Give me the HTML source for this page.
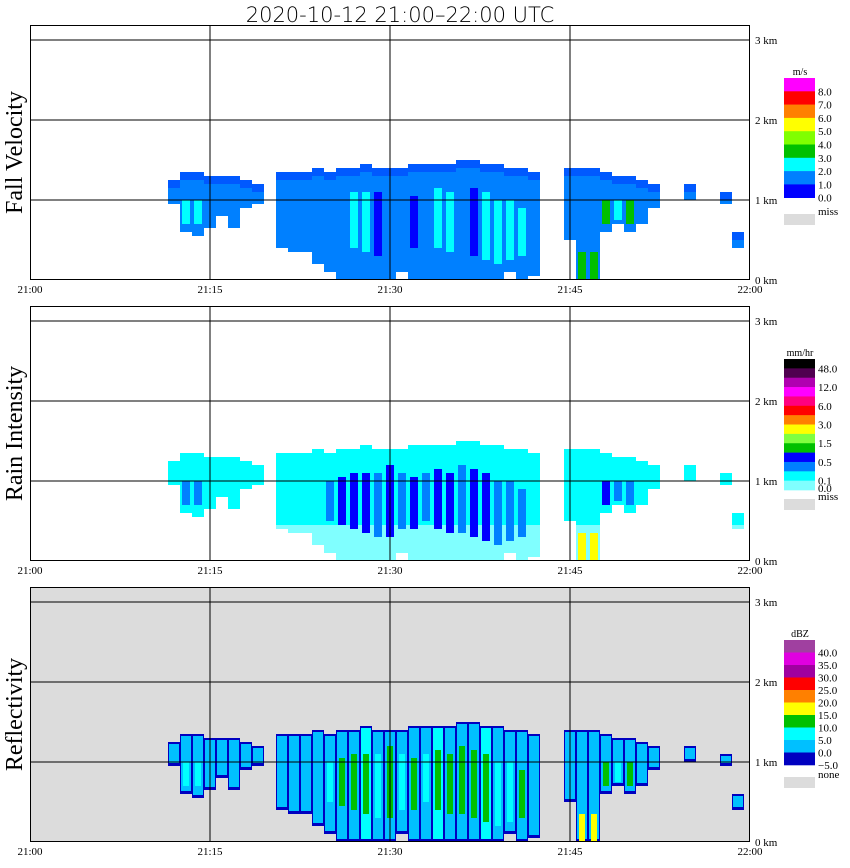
<!DOCTYPE html>
<html><head><meta charset="utf-8">
<style>
html,body{margin:0;padding:0;background:#fff;}
svg{display:block;}
text{font-family:"Liberation Serif","DejaVu Serif",serif;fill:#000;}
</style></head>
<body>
<svg id="chart" width="850" height="868" viewBox="0 0 850 868" xmlns="http://www.w3.org/2000/svg">
<text x="400" y="22" text-anchor="middle" style="font-family:'DejaVu Sans','Liberation Sans',sans-serif;font-size:21px;font-weight:300">2020-10-12   21:00–22:00 UTC</text>
<g id="panels"></g>
</svg>
<script>
// ---- data (per-minute columns after 21:00) ----
const minutes   = [12,13,14,15,16,17,18,19,21,22,23,24,25,26,27,28,29,30,31,32,33,34,35,36,37,38,39,40,41,42,45,46,47,48,49,50,51,52,55,58,59];
const echoTop   = [1.25,1.35,1.35,1.3,1.3,1.3,1.25,1.2,1.35,1.35,1.35,1.4,1.35,1.4,1.4,1.45,1.4,1.4,1.4,1.45,1.45,1.45,1.45,1.5,1.5,1.45,1.45,1.4,1.4,1.35,1.4,1.4,1.4,1.35,1.3,1.3,1.25,1.2,1.2,1.1,0.6];
const echoBase  = [0.95,0.6,0.55,0.65,0.8,0.65,0.9,0.95,0.4,0.35,0.35,0.2,0.1,0.0,0.0,0.0,0.0,0.0,0.1,0.0,0.0,0.0,0.0,0.0,0.0,0.0,0.0,0.1,0.0,0.05,0.5,0.0,0.0,0.6,0.7,0.6,0.7,0.9,1.0,0.95,0.4];
const coreTop   = [null,1.0,1.0,null,null,null,null,null,null,null,null,null,1.0,1.05,1.1,1.1,1.1,1.2,1.1,1.05,1.1,1.15,1.1,1.2,1.15,1.1,1.0,1.0,0.9,null,null,0.35,0.35,1.0,1.0,1.0,null,null,null,null,null];
const coreBase  = [null,0.7,0.7,null,null,null,null,null,null,null,null,null,0.5,0.45,0.4,0.35,0.3,0.3,0.4,0.4,0.5,0.4,0.35,0.35,0.3,0.25,0.2,0.25,0.3,null,null,0.0,0.0,0.7,0.75,0.7,null,null,null,null,null];
const fallMain  = [1.5,1.5,1.5,1.5,1.5,1.5,1.5,1.5,1.5,1.5,1.5,1.5,1.5,1.5,1.5,1.5,1.5,1.5,1.5,1.5,1.5,1.5,1.5,1.5,1.5,1.5,1.5,1.5,1.5,1.5,1.5,1.5,1.5,1.5,1.5,1.5,1.5,1.5,1.5,1.5,1.5];
const fallCore  = [null,2.5,2.5,null,null,null,null,null,null,null,null,null,1.5,1.5,2.5,2.5,0.5,1.5,1.5,0.5,1.5,2.5,2.5,1.5,0.5,2.5,2.5,2.5,2.5,null,null,3.5,3.5,3.5,2.5,3.5,null,null,null,null,null];
const rainMain  = [0.15,0.15,0.15,0.15,0.15,0.15,0.15,0.15,0.15,0.15,0.15,0.15,0.15,0.15,0.15,0.15,0.15,0.15,0.15,0.15,0.15,0.15,0.15,0.15,0.15,0.15,0.15,0.15,0.15,0.15,0.15,0.15,0.15,0.15,0.15,0.15,0.15,0.15,0.15,0.15,0.15];
const rainLow   = 0.05;
const rainLowTop = 0.45;
const rainCore  = [null,0.3,0.3,null,null,null,null,null,null,null,null,null,0.3,0.7,0.7,0.7,0.3,0.7,0.3,0.7,0.3,0.7,0.7,0.3,0.7,0.7,0.3,0.3,0.3,null,null,2.5,2.5,0.7,0.3,0.3,null,null,null,null,null];
const dbzMain   = [2,2,2,2,2,2,2,2,2,2,2,2,2,2,2,7,2,2,2,2,2,7,2,2,2,7,2,2,2,2,2,2,2,2,2,2,2,2,2,2,2];
const dbzCore   = [null,7,7,null,null,null,null,null,null,null,null,null,7,12,12,12,7,12,7,12,7,12,12,12,12,12,7,7,12,null,null,17,17,12,7,12,null,null,null,null,null];
// ---- colour scales ----
const fallBounds = [0,1,2,3,4,5,6,7,8];
const fallColors = ["#0000ff","#0080ff","#00ffff","#00c000","#80ff00","#ffff00","#ff8000","#ff0000","#ff00ff"];
const fallLabels = ["8.0","7.0","6.0","5.0","4.0","3.0","2.0","1.0","0.0"];
const rainBounds = [0,0.1,0.25,0.5,1,1.5,2,3,4.5,6,9,12,24,48];
const rainColors = ["#80ffff","#00ffff","#0080ff","#0000ff","#00c000","#80ff40","#ffff00","#ff8000","#ff0000","#ff0080","#ff00ff","#b000b0","#500050","#000000"];
const rainLabels = ["48.0","12.0","6.0","3.0","1.5","0.5","0.1","0.0"];
const dbzBounds = [-5,0,5,10,15,20,25,30,35,40];
const dbzColors = ["#0000c0","#00c0ff","#00ffff","#00c000","#ffff00","#ff8000","#ff0000","#a000a0","#e000e0","#a040a0"];
const dbzLabels = ["40.0","35.0","30.0","25.0","20.0","15.0","10.0","5.0","0.0","−5.0"];
const timeTicks = ["21:00","21:15","21:30","21:45","22:00"];
const kmTicks = [0,1,2,3];

const NS="http://www.w3.org/2000/svg";
const root=document.getElementById('panels');
function mk(tag,attrs,parent){const e=document.createElementNS(NS,tag);for(const k in attrs)e.setAttribute(k,attrs[k]);(parent||root).appendChild(e);return e;}
function colorOf(v,b,c){let i=0;for(let k=0;k<b.length;k++){if(v>=b[k])i=k;}return c[i];}
const X0=30,X1=750;
function xs(m){return X0+(X1-X0)*m/60;}

const panels=[
 {name:"fall-velocity",title:"Fall Velocity",zero:280,bg:"#ffffff",unit:"m/s"},
 {name:"rain-intensity",title:"Rain Intensity",zero:561,bg:"#ffffff",unit:"mm/hr"},
 {name:"reflectivity",title:"Reflectivity",zero:842,bg:"#dcdcdc",unit:"dBZ"}
];
panels.forEach((p,pi)=>{
  const g=mk('g',{});
  
  
  const ys=km=>p.zero-80*km;
  const top=ys(3)-15;
  const bg=mk('rect',{x:X0,y:top,width:X1-X0,height:p.zero-top,fill:p.bg},g);
  
  
  const w=(X1-X0)/60;
  minutes.forEach((m,i)=>{
    const x=xs(m)-w/2;
    const t=echoTop[i],b=echoBase[i];
    let r;
    if(pi===0){
      r=mk('rect',{x:x,y:ys(t),width:w,height:ys(b)-ys(t),fill:colorOf(fallMain[i],fallBounds,fallColors)},g);
      mk('rect',{x:x,y:ys(t),width:w,height:Math.min(8,ys(b)-ys(t)),fill:"#0000ff",opacity:0.3},g);
      if(coreTop[i]!==null){const c=mk('rect',{x:x+2,y:ys(coreTop[i]),width:w-4,height:ys(coreBase[i])-ys(coreTop[i]),fill:colorOf(fallCore[i],fallBounds,fallColors)},g);
        }
    } else if(pi===1){
      r=mk('rect',{x:x,y:ys(t),width:w,height:ys(b)-ys(t),fill:colorOf(rainMain[i],rainBounds,rainColors)},g);
      if(b<rainLowTop){const lt=Math.min(t,rainLowTop);const l=mk('rect',{x:x,y:ys(lt),width:w,height:ys(b)-ys(lt),fill:colorOf(rainLow,rainBounds,rainColors)},g);
        }
      if(coreTop[i]!==null){const c=mk('rect',{x:x+2,y:ys(coreTop[i]),width:w-4,height:ys(coreBase[i])-ys(coreTop[i]),fill:colorOf(rainCore[i],rainBounds,rainColors)},g);
        }
    } else {
      r=mk('rect',{x:x,y:ys(t),width:w,height:ys(b)-ys(t),fill:dbzColors[0]},g);
      const h=ys(b)-ys(t)-5;
      if(h>0){const inn=mk('rect',{x:x+1,y:ys(t)+2,width:w-2,height:h,fill:colorOf(dbzMain[i],dbzBounds,dbzColors)},g);
        }
      if(coreTop[i]!==null){const c=mk('rect',{x:x+3,y:ys(coreTop[i]),width:w-6,height:ys(coreBase[i])-ys(coreTop[i]),fill:colorOf(dbzCore[i],dbzBounds,dbzColors)},g);
        }
    }
    
    
  });
  kmTicks.forEach(k=>{
    if(k>0){const l=mk('line',{x1:X0,x2:X1,y1:ys(k),y2:ys(k),stroke:"#000","stroke-width":1},g);
      }
    const tl=mk('text',{x:X1+5,y:ys(k)+4,'font-size':11},g);tl.textContent=k+' km';
    
  });
  timeTicks.forEach((lab,i)=>{
    const x=X0+(X1-X0)*i/(timeTicks.length-1);
    if(i>0&&i<timeTicks.length-1){const l=mk('line',{x1:x,x2:x,y1:top,y2:p.zero,stroke:"#000","stroke-width":1},g);
      }
    const tl=mk('text',{x:x,y:p.zero+13,'font-size':11,'text-anchor':'middle'},g);tl.textContent=lab;
    
  });
  const fr=mk('rect',{x:X0+0.5,y:top+0.5,width:X1-X0-1,height:p.zero-top-1,fill:"none",stroke:"#000","stroke-width":1},g);
  
  const yt=mk('text',{x:0,y:0,'font-size':24,'text-anchor':'middle',transform:`translate(22,${(top+p.zero)/2}) rotate(-90)`},g);
  yt.textContent=p.title;
  const lg=mk('g',{},g);
  let cols,y0,h,missY,missTxt;
  if(pi===0){cols=fallColors.slice().reverse();y0=78;h=13.3;missY=214;missTxt="miss";}
  else if(pi===1){cols=rainColors.slice().reverse();y0=359;h=9.36;missY=499;missTxt="miss";}
  else {cols=dbzColors.slice().reverse();y0=640;h=12.5;missY=777;missTxt="none";}
  const u=mk('text',{x:800,y:y0-3,'font-size':10,'text-anchor':'middle'},lg);u.textContent=p.unit;
  
  cols.forEach((c,i)=>{const r=mk('rect',{x:784,y:y0+i*h,width:31,height:h+0.3,fill:c},lg);
    });
  const labsArr=pi===0?fallLabels:(pi===1?rainLabels:dbzLabels);
  labsArr.forEach((s,i)=>{
    let yy;
    if(pi===1){yy=(i<7)?y0+(2*i+1)*h:y0+14*h-2;}
    else yy=y0+(i+1)*h;
    const t=mk('text',{x:818,y:yy+4,'font-size':11},lg);t.textContent=s;
    
  });
  const mr=mk('rect',{x:784,y:missY,width:31,height:11,fill:"#dcdcdc"},lg);
  
  const mt=mk('text',{x:818,y:missY+1,'font-size':11},lg);mt.textContent=missTxt;
  
});
</script>
</body></html>
